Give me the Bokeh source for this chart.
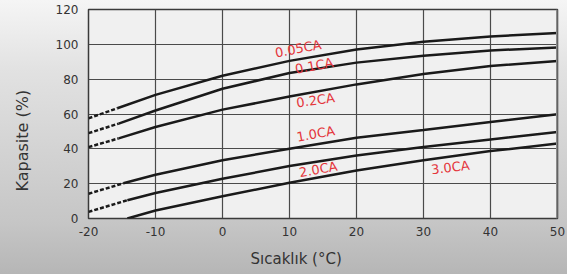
import math
from bokeh.plotting import figure
from bokeh.models import Range1d, FixedTicker, ColumnDataSource, Title, Span
from bokeh.core.properties import value
from bokeh.embed import file_html
from bokeh.resources import INLINE

# ---- data ----
rates = ["0.05CA", "0.1CA", "0.2CA", "1.0CA", "2.0CA", "3.0CA"]
temps = [-10, 0, 10, 20, 30, 40, 50]
cap_005 = [71.0, 82.0, 90.5, 97.0, 101.5, 104.5, 106.5]
cap_01 = [62.0, 74.5, 83.5, 89.5, 93.5, 96.5, 98.2]
cap_02 = [52.5, 62.5, 70.0, 77.0, 83.0, 87.5, 90.5]
cap_10 = [25.1, 33.4, 40.1, 46.4, 50.8, 55.4, 59.8]
cap_20 = [14.6, 22.8, 30.1, 36.2, 41.0, 45.4, 49.6]
cap_30 = [4.6, 12.8, 20.5, 27.6, 33.4, 38.7, 43.0]
# where the solid (measured) part of each curve begins
solid_start_temp = [-15.7, -15.5, -15.5, -14.8, -14.2, -14.2]
solid_start_cap = [63.3, 54.5, 46.0, 20.2, 10.5, 0.0]
# dashed (extrapolated) value at -20 °C
dashed_temp = -20
dashed_cap = [57.5, 49.0, 41.0, 14.2, 3.8, None]

x_ticks = [-20, -10, 0, 10, 20, 30, 40, 50]
x_tick_labels = ["-20", "-10", "0", "10", "20", "30", "40", "50"]
y_ticks = [0, 20, 40, 60, 80, 100, 120]
y_tick_labels = ["0", "20", "40", "60", "80", "100", "120"]
x_title = "Sıcaklık (°C)"
y_title = "Kapasite (%)"

# ---- layout / style ----
label_x = [11.3, 13.7, 13.9, 13.9, 14.3, 34.0]
label_y = [97.5, 87.7, 67.9, 48.6, 28.2, 29.3]
label_deg = [10.5, 10.5, 8.0, 10.0, 10.0, 7.0]

FONT = "DejaVu Sans"
LINE = "#1a1a1a"
RED = "#e4353b"
TXT = "#333333"

p = figure(frame_width=469, frame_height=209,
           x_range=Range1d(-20, 50), y_range=Range1d(0, 120),
           output_backend="svg", toolbar_location=None,
           min_border_left=88, min_border_right=10,
           min_border_top=9, min_border_bottom=56)

p.styles = {"background": "linear-gradient(#f5f5f5 0%, #e2e2e2 25%, #c6c6c6 80%, #b5b5b5 100%)"}
p.border_fill_color = None
p.background_fill_color = "#f0f0f0"
p.outline_line_color = "#3a3a3a"
p.outline_line_width = 1.5

p.xaxis.ticker = FixedTicker(ticks=x_ticks)
p.yaxis.ticker = FixedTicker(ticks=y_ticks)
p.xaxis.major_label_overrides = dict(zip(x_ticks, x_tick_labels))
p.yaxis.major_label_overrides = dict(zip(y_ticks, y_tick_labels))
for ax in (p.xaxis, p.yaxis):
    ax.axis_line_color = None
    ax.major_tick_line_color = None
    ax.minor_tick_line_color = None
    ax.major_tick_out = 0
    ax.major_tick_in = 0
    ax.major_label_text_font = FONT
    ax.major_label_text_font_size = "12px"
    ax.major_label_text_color = TXT
p.xaxis.major_label_standoff = 8
p.yaxis.major_label_standoff = 10

p.xgrid.ticker = FixedTicker(ticks=x_ticks)
p.ygrid.ticker = FixedTicker(ticks=y_ticks)
for g in (p.xgrid, p.ygrid):
    g.grid_line_color = "#4a4a4a"
    g.grid_line_width = 1.2
    g.grid_line_alpha = 1.0

# grey right edge of the frame
p.add_layout(Span(location=x_ticks[-1], dimension="height", line_color="#8a8a8a", line_width=3))

series = [cap_005, cap_01, cap_02, cap_10, cap_20, cap_30]
for i, vals in enumerate(series):
    xs = [solid_start_temp[i]] + temps
    ys = [solid_start_cap[i]] + vals
    p.line(xs, ys, line_color=LINE, line_width=2.5)
    if dashed_cap[i] is not None:
        p.line([dashed_temp, solid_start_temp[i]], [dashed_cap[i], solid_start_cap[i]],
               line_color=LINE, line_width=2.5, line_dash="4 2")

src = ColumnDataSource(dict(x=label_x, y=label_y, t=rates,
                            a=[math.radians(d) for d in label_deg]))
p.text(x="x", y="y", text="t", angle="a", source=src,
       text_font=value(FONT), text_font_size=value("13px"), text_color=RED,
       text_align="center", text_baseline="middle")

p.add_layout(Title(text=x_title, align="left", offset=162, standoff=19,
                   text_font=FONT, text_font_size="15px", text_font_style="normal",
                   text_color=TXT), "below")
# empty spacer panel between the y tick labels and the y title
p.add_layout(Title(text=" ", standoff=0, text_font=FONT, text_font_size="9px"), "left")
p.add_layout(Title(text=y_title, align="left", offset=27, standoff=14, vertical_align="top",
                   text_font=FONT, text_font_size="16px", text_font_style="normal",
                   text_color=TXT), "left")

open("out.html", "w").write(file_html(p, INLINE))
